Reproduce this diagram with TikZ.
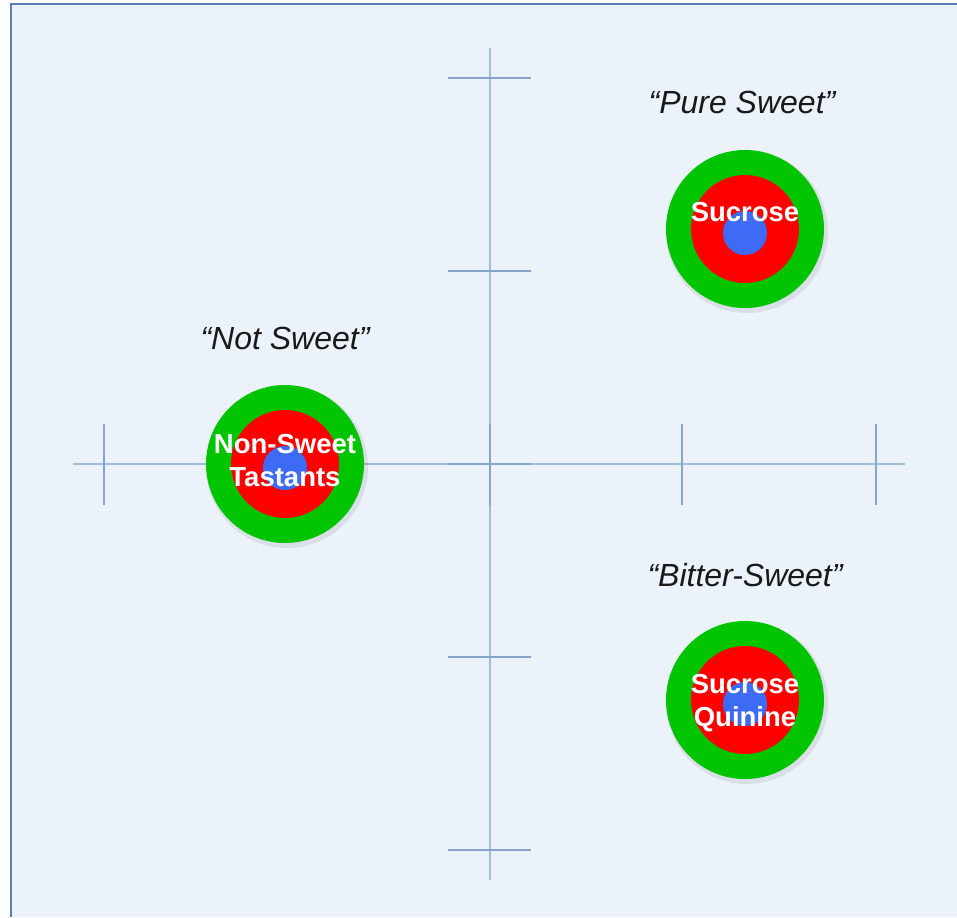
\documentclass[tikz,border=0pt]{standalone}
\usepackage{fontspec}
\setmainfont{Liberation Sans}
\begin{document}
\begin{tikzpicture}[x=1pt,y=-1pt,
  axis/.style={draw=axisblue,line width=1.1pt},
  tick/.style={draw=tickblue,line width=1.1pt},
  outer/.style={circle,fill=ringgreen,minimum size=158pt,inner sep=0pt},
  midring/.style={circle,fill=ringred,minimum size=108pt,inner sep=0pt},
  core/.style={circle,fill=coreblue,minimum size=44pt,inner sep=0pt},
  shadowc/.style={circle,fill=black,opacity=0.08,minimum size=162pt,inner sep=0pt},
  lab/.style={text=white,font=\fontsize{27.5}{33}\selectfont\bfseries,align=center},
  quad/.style={font=\fontsize{32}{36}\selectfont\itshape,text=black!90}
]
\definecolor{bg}{HTML}{EBF2FA}
\definecolor{frame}{HTML}{5B7FAE}
\definecolor{axisblue}{HTML}{A3BBDB}
\definecolor{tickblue}{HTML}{86A5CC}
\definecolor{ringgreen}{HTML}{00C400}
\definecolor{ringred}{HTML}{FF0000}
\definecolor{coreblue}{HTML}{3D6BF5}
\useasboundingbox (0,0) rectangle (957,917);
\fill[white] (0,0) rectangle (957,917);
\fill[bg] (11,4) rectangle (957,917);
\draw[frame,line width=1.2pt] (11,917) -- (11,4) -- (957,4);
% axes
\coordinate (hl) at (73,464); \coordinate (hr) at (905,464);
\coordinate (vt) at (490,48); \coordinate (vb) at (490,880);
\draw[axis] (hl) -- (hr);
\draw[axis] (vt) -- (vb);
% ticks on horizontal axis
\foreach \x in {104,297,490,682,876} \draw[tick] (\x,424) -- (\x,505);
% ticks on vertical axis
\foreach \y in {78,271,464,657,850} \draw[tick] (448,\y) -- (531,\y);
% targets
\foreach \n/\cx/\cy in {s/745/229, n/285/464, b/745/700}{
  \node[shadowc] (\n sh) at (\cx+2,\cy+3) {};
  \node[outer] (\n o) at (\cx,\cy) {};
  \node[midring] (\n m) at (\cx,\cy) {};
  \node[core] (\n c) at (\cx,\cy+4) {};
}
\node[lab] (sl) at (745,212) {Sucrose};
\node[lab] (nl) at (285,461) {Non-Sweet\\Tastants};
\node[lab] (bl) at (745,703) {Sucrose\\Quinine};
\node[quad] (q1) at (742,102) {“Pure Sweet”};
\node[quad] (q2) at (285,338) {“Not Sweet”};
\node[quad] (q3) at (745,575) {“Bitter-Sweet”};
\end{tikzpicture}
\end{document}
